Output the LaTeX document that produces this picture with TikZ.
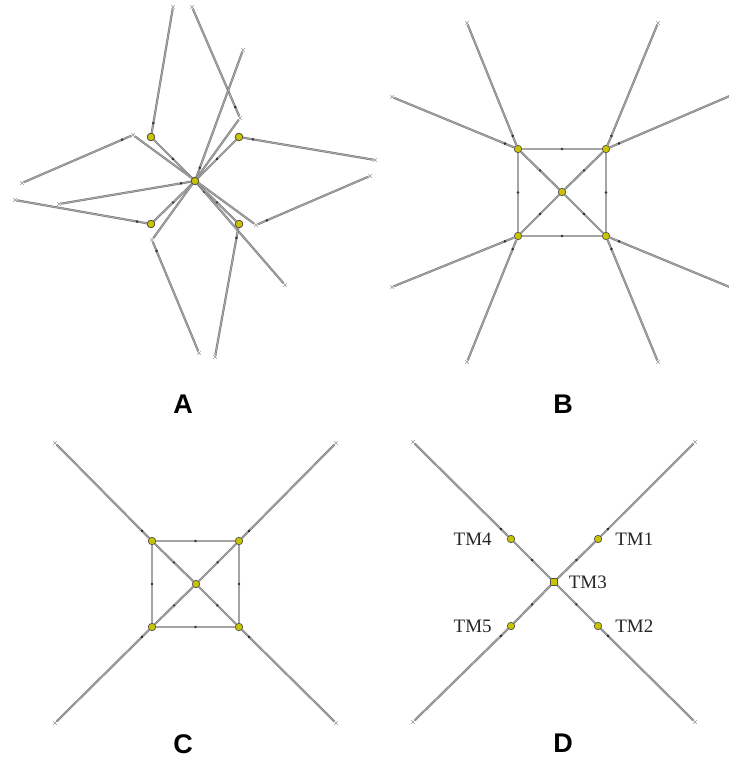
\documentclass[tikz,border=0pt]{standalone}
\usepackage{fontspec}
\setmainfont{Liberation Serif}
\setsansfont{Liberation Sans}
\usetikzlibrary{shapes.misc,decorations.markings}
\definecolor{ylw}{RGB}{200,196,0}
\definecolor{ndr}{RGB}{80,80,70}
\definecolor{edD}{RGB}{115,115,115}
\definecolor{edL}{RGB}{165,165,165}
\definecolor{mkc}{RGB}{50,50,50}
\begin{document}
\begin{tikzpicture}[x=1pt,y=-1pt,
  tn/.style={circle, fill=ylw, draw=ndr, line width=0.7pt, minimum size=7.5pt, inner sep=0pt},
  endp/.style={cross out, draw=gray!80, line width=0.5pt, minimum size=3pt, inner sep=0pt},
  ed/.style={draw=edD, line width=0.5pt, double=edL, double distance=1.1pt},
  mkmid/.style={postaction={decorate, decoration={markings, mark=at position 0.5 with {\fill[mkc] (0,0) circle (1.4pt);}}}},
  mknear/.style={postaction={decorate, decoration={markings, mark=at position 10pt with {\fill[mkc] (0,0) circle (1.4pt);}}}},
  panel/.style={font=\sffamily\bfseries\fontsize{27}{27}\selectfont, inner sep=0pt, anchor=base},
  lbl/.style={font=\fontsize{19}{19}\selectfont, inner sep=0pt, text=black!85}
]
\useasboundingbox (0,0) rectangle (728,760);

% ---------------- Panel A ----------------
\node[endp] (ae1) at (173,7) {};
\node[endp] (ae2) at (192,7) {};
\node[endp] (ae2b) at (240,118) {};
\node[endp] (ae3) at (243,50) {};
\node[endp] (ae4) at (375,160) {};
\node[endp] (ae5) at (370,176) {};
\node[endp] (ae5b) at (256,225) {};
\node[endp] (ae6) at (285,285) {};
\node[endp] (ae7) at (215,357) {};
\node[endp] (ae8) at (199,353) {};
\node[endp] (ae8b) at (152,240) {};
\node[endp] (ae9) at (15,200) {};
\node[endp] (ae10) at (22,183) {};
\node[endp] (ae10b) at (133,135) {};
\node[endp] (ae11) at (59,204) {};

\node[tn] (a1) at (151,137) {};
\node[tn] (a2) at (239,137) {};
\node[tn] (a3) at (195,181) {};
\node[tn] (a4) at (151,224) {};
\node[tn] (a5) at (239,224) {};

\draw[ed, mknear] (a1) -- (ae1);
\draw[ed, mknear] (ae2b) -- (ae2);
\draw[ed, mknear] (a3) -- (ae3);
\draw[ed, mknear] (a2) -- (ae4);
\draw[ed, mknear] (ae5b) -- (ae5);
\draw[ed, mknear] (a3) -- (ae6);
\draw[ed, mknear] (a5) -- (ae7);
\draw[ed, mknear] (ae8b) -- (ae8);
\draw[ed, mknear] (a4) -- (ae9);
\draw[ed, mknear] (ae10b) -- (ae10);
\draw[ed, mknear] (a3) -- (ae11);
\draw[ed, mkmid] (a1) -- (a3);
\draw[ed, mkmid] (a3) -- (a5);
\draw[ed, mkmid] (a2) -- (a3);
\draw[ed, mkmid] (a3) -- (a4);
\draw[ed, mkmid] (ae10b) -- (ae5b);
\draw[ed, mkmid] (ae2b) -- (ae8b);
\foreach \n in {a1,a2,a3,a4,a5} \node[tn] at (\n) {};

% ---------------- Panel B ----------------
\node[tn] (b1) at (518,149) {};
\node[tn] (b2) at (606,149) {};
\node[tn] (b3) at (562,192) {};
\node[tn] (b4) at (518,236) {};
\node[tn] (b5) at (606,236) {};
\node[endp] (be1) at (467,23) {};
\node[endp] (be2) at (392,97) {};
\node[endp] (be3) at (658,23) {};
\coordinate (be4) at (732,95);
\node[endp] (be5) at (392,287) {};
\node[endp] (be6) at (467,362) {};
\node[endp] (be7) at (658,362) {};
\coordinate (be8) at (732,288);

\draw[ed, mknear] (b1) -- (be1);
\draw[ed, mknear] (b1) -- (be2);
\draw[ed, mknear] (b2) -- (be3);
\draw[ed, mknear] (b2) -- (be4);
\draw[ed, mknear] (b4) -- (be5);
\draw[ed, mknear] (b4) -- (be6);
\draw[ed, mknear] (b5) -- (be7);
\draw[ed, mknear] (b5) -- (be8);
\draw[ed, mkmid] (b1) -- (b2);
\draw[ed, mkmid] (b2) -- (b5);
\draw[ed, mkmid] (b5) -- (b4);
\draw[ed, mkmid] (b4) -- (b1);
\draw[ed, mkmid] (b1) -- (b3);
\draw[ed, mkmid] (b3) -- (b5);
\draw[ed, mkmid] (b2) -- (b3);
\draw[ed, mkmid] (b3) -- (b4);

% ---------------- Panel C ----------------
\node[tn] (c1) at (152,541) {};
\node[tn] (c2) at (239,541) {};
\node[tn] (c3) at (196,584) {};
\node[tn] (c4) at (152,627) {};
\node[tn] (c5) at (239,627) {};
\node[endp] (ce1) at (55,443) {};
\node[endp] (ce2) at (336,443) {};
\node[endp] (ce3) at (55,723) {};
\node[endp] (ce4) at (336,723) {};

\draw[ed, mknear] (c1) -- (ce1);
\draw[ed, mknear] (c2) -- (ce2);
\draw[ed, mknear] (c4) -- (ce3);
\draw[ed, mknear] (c5) -- (ce4);
\draw[ed, mkmid] (c1) -- (c2);
\draw[ed, mkmid] (c2) -- (c5);
\draw[ed, mkmid] (c5) -- (c4);
\draw[ed, mkmid] (c4) -- (c1);
\draw[ed, mkmid] (c1) -- (c3);
\draw[ed, mkmid] (c3) -- (c5);
\draw[ed, mkmid] (c2) -- (c3);
\draw[ed, mkmid] (c3) -- (c4);

% ---------------- Panel D ----------------
\node[tn, label={[lbl, label distance=13pt]right:TM1}] (d1) at (598,539) {};
\node[tn, label={[lbl, label distance=13pt]right:TM2}] (d2) at (598,626) {};
\node[tn, rectangle, minimum size=6.5pt, label={[lbl, label distance=11pt]right:TM3}] (d3) at (554,582) {};
\node[tn, label={[lbl, label distance=15pt]left:TM4}] (d4) at (511,539) {};
\node[tn, label={[lbl, label distance=15pt]left:TM5}] (d5) at (511,626) {};
\node[endp] (de1) at (413,442) {};
\node[endp] (de2) at (695,442) {};
\node[endp] (de3) at (413,722) {};
\node[endp] (de4) at (695,722) {};

\draw[ed, mknear] (d4) -- (de1);
\draw[ed, mknear] (d1) -- (de2);
\draw[ed, mknear] (d5) -- (de3);
\draw[ed, mknear] (d2) -- (de4);
\draw[ed, mkmid] (d4) -- (d3);
\draw[ed, mkmid] (d3) -- (d2);
\draw[ed, mkmid] (d1) -- (d3);
\draw[ed, mkmid] (d3) -- (d5);

% ---------------- Panel letters ----------------
\node[panel] (lA) at (183,413) {A};
\node[panel] (lB) at (563,413) {B};
\node[panel] (lC) at (183,753) {C};
\node[panel] (lD) at (563,752) {D};
\end{tikzpicture}
\end{document}
